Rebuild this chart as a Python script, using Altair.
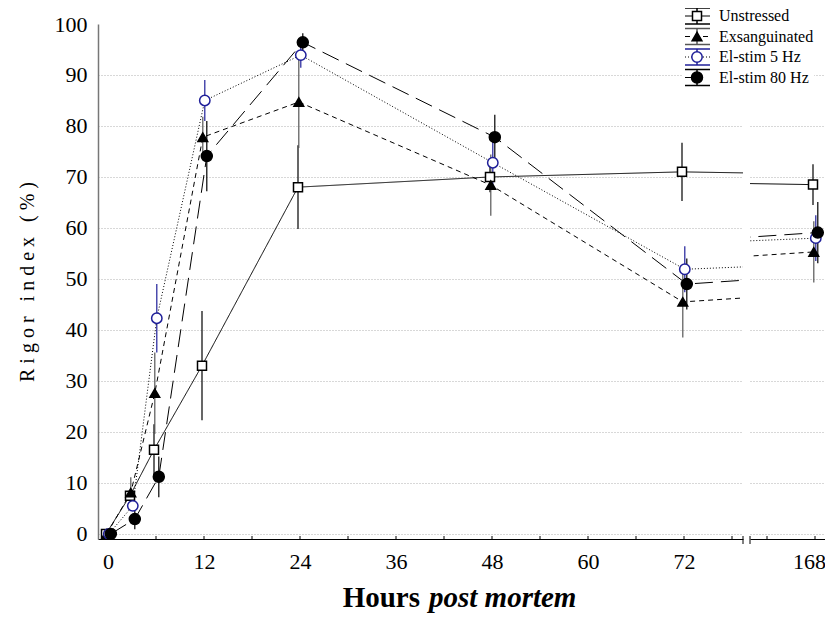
import altair as alt
import pandas as pd

# ---------------- data ----------------
hours = [0, 3, 6, 12, 24, 48, 72, 168]
series = ["Unstressed", "Exsanguinated", "El-stim 5 Hz", "El-stim 80 Hz"]

unstressed = [0.0, 7.5, 16.5, 33.0, 68.0, 70.0, 71.0, 68.5]
unstressed_err = [0.6, 1.0, 5.0, 10.7, 8.2, 3.0, 5.7, 4.0]
exsanguinated = [0.0, 8.1, 27.6, 77.8, 84.7, 68.4, 45.5, 55.3]
exsanguinated_err = [0.6, 3.0, 8.0, 4.0, 9.0, 6.0, 7.0, 6.0]
stim5 = [0.0, 5.5, 42.3, 85.0, 93.9, 72.8, 51.9, 58.0]
stim5_err = [0.5, 1.0, 6.7, 4.0, 2.5, 5.0, 4.5, 4.5]
stim80 = [0.0, 2.9, 11.2, 74.1, 96.4, 77.8, 49.0, 59.1]
stim80_err = [0.5, 2.0, 4.0, 6.9, 1.8, 4.4, 5.0, 6.0]

y_ticks = list(range(0, 101, 10))
x_labels_left = [0, 12, 24, 36, 48, 60, 72]
x_labels_right = [168]
x_minor_left = list(range(0, 79, 6))
x_minor_right = [162, 168]
x_title = ["Hours", "post mortem"]
NB = "\u00a0"
y_title = NB.join(["R", "i", "g", "o", "r", NB, "i", "n", "d", "e", "x", NB, "(", "%", ")"])

# ---------------- styles ----------------
SERIF = "Liberation Serif"
H = 515
WL, WR = 645, 79
dodge = [-0.25, -0.15, 0.1, 0.35]          # small horizontal shift per series (hours)
dashes = [[1, 0], [5, 4], [1, 2], [18, 8]]
shapes = ["square", "triangle-up", "circle", "circle"]
fills = ["white", "black", "white", "black"]
strokes = ["black", "black", "#1f1f99", "black"]
err_colors = ["black", "#555555", "#1f1f99", "black"]
sizes = [81, 121, 64, 100]

vals = [unstressed, exsanguinated, stim5, stim80]
errs = [unstressed_err, exsanguinated_err, stim5_err, stim80_err]
rows = []
for i, s in enumerate(series):
    for h, v, e in zip(hours, vals[i], errs[i]):
        rows.append({"series": s, "hour": h, "x": h + dodge[i],
                     "value": v, "lo": v - e, "hi": v + e})
df = pd.DataFrame(rows)


def sc(rng):
    return alt.Scale(domain=series, range=rng)


ys = alt.Scale(domain=[-1, 100], nice=False, zero=False)
xs_left = alt.Scale(domain=[-1.25, 79.375], nice=False, zero=False)
xs_right = alt.Scale(domain=[159.875, 169.75], nice=False, zero=False)
grid_op = {"condition": {"test": "datum.value >= 100", "value": 0}, "value": 1}


def data_layers(xs, xaxis, yaxis):
    base = alt.Chart(df)
    err = base.mark_rule(clip=True, strokeWidth=1.2).encode(
        x=alt.X("x:Q", scale=xs, axis=xaxis),
        y=alt.Y("lo:Q", scale=ys, axis=yaxis),
        y2="hi:Q",
        color=alt.Color("series:N", scale=sc(err_colors), legend=None),
    )
    line = base.mark_line(clip=True, strokeWidth=1, color="black").encode(
        x=alt.X("x:Q", scale=xs),
        y=alt.Y("value:Q", scale=ys),
        strokeDash=alt.StrokeDash("series:N", scale=sc(dashes), legend=None),
    )
    pts = base.mark_point(clip=True, opacity=1, strokeWidth=1.5).encode(
        x=alt.X("x:Q", scale=xs),
        y=alt.Y("value:Q", scale=ys),
        shape=alt.Shape("series:N", scale=sc(shapes), legend=None),
        fill=alt.Fill("series:N", scale=sc(fills), legend=None),
        stroke=alt.Stroke("series:N", scale=sc(strokes), legend=None),
        size=alt.Size("series:N", scale=sc(sizes), legend=None),
    )
    return [err, line, pts]


def minor_ticks(vals_, xs):
    return alt.Chart(pd.DataFrame({"t": vals_})).mark_rule(color="black", strokeWidth=1).encode(
        x=alt.X("t:Q", scale=xs), y=alt.value(H - 3), y2=alt.value(H)
    )


def break_mark(xpix):
    return alt.Chart(pd.DataFrame({"k": [0]})).mark_rule(color="black", strokeWidth=1).encode(
        x=alt.value(xpix), y=alt.value(H - 3), y2=alt.value(H + 5)
    )


# ---------------- left panel ----------------
yaxis_left = alt.Axis(
    values=y_ticks, labelFont=SERIF, labelFontSize=22, labelColor="black", labelPadding=11,
    ticks=False, domainColor="#777777", domainWidth=1.5,
    grid=True, gridColor="#b0b0b0", gridDash=[1, 2], gridOpacity=grid_op,
    title=y_title, titleFont=SERIF, titleFontSize=20, titleFontWeight="normal",
    titleColor="black", titlePadding=17,
)
xaxis_left = alt.Axis(
    values=x_labels_left, labelFont=SERIF, labelFontSize=22, labelColor="black", labelPadding=12,
    labelFlush=False, labelOverlap=False, ticks=False, domainColor="black", domainWidth=1,
    grid=False, title=None,
)

xt1 = alt.Chart(pd.DataFrame({"t": [x_title[0]]})).mark_text(
    align="right", baseline="alphabetic", font=SERIF, fontSize=29, fontWeight="bold", color="black"
).encode(text="t:N", x=alt.value(322), y=alt.value(583))
xt2 = alt.Chart(pd.DataFrame({"t": [x_title[1]]})).mark_text(
    align="left", baseline="alphabetic", font=SERIF, fontSize=29, fontWeight="bold",
    fontStyle="italic", color="black"
).encode(text="t:N", x=alt.value(331), y=alt.value(583))

left = alt.layer(
    *data_layers(xs_left, xaxis_left, yaxis_left),
    minor_ticks(x_minor_left, xs_left),
    break_mark(WL),
    xt1, xt2,
).properties(width=WL, height=H)

# ---------------- right panel ----------------
yaxis_right = alt.Axis(
    values=y_ticks, labels=False, ticks=False, domain=False, title=None,
    grid=True, gridColor="#b0b0b0", gridDash=[1, 2], gridOpacity=grid_op,
)
xaxis_right = alt.Axis(
    values=x_labels_right, labelFont=SERIF, labelFontSize=22, labelColor="black", labelPadding=12,
    labelOffset=-6, labelFlush=False, labelOverlap=False, ticks=False,
    domainColor="black", domainWidth=1, grid=False, title=None,
)

leg = alt.Chart(pd.DataFrame({"series": series, "idx": list(range(len(series)))})).transform_calculate(
    ly="-8 + 20.5 * datum.idx", top="datum.ly - 8", bot="datum.ly + 8"
)
leg_bg = alt.Chart(pd.DataFrame({"k": [0]})).mark_rect(color="white").encode(
    x=alt.value(-67), x2=alt.value(64), y=alt.value(-16), y2=alt.value(64)
)
leg_caps_top = leg.mark_rule(strokeWidth=1.5).encode(
    x=alt.value(-65), x2=alt.value(-40), y=alt.Y("top:Q", scale=None, axis=None),
    color=alt.Color("series:N", scale=sc(err_colors), legend=None),
)
leg_caps_bot = leg.mark_rule(strokeWidth=1.5).encode(
    x=alt.value(-65), x2=alt.value(-40), y=alt.Y("bot:Q", scale=None, axis=None),
    color=alt.Color("series:N", scale=sc(err_colors), legend=None),
)
leg_vert = leg.mark_rule(strokeWidth=1.5).encode(
    x=alt.value(-53), y=alt.Y("top:Q", scale=None, axis=None), y2="bot:Q",
    color=alt.Color("series:N", scale=sc(err_colors), legend=None),
)
leg_line = leg.mark_rule(strokeWidth=1, color="black").encode(
    x=alt.value(-65), x2=alt.value(-40), y=alt.Y("ly:Q", scale=None, axis=None),
    strokeDash=alt.StrokeDash("series:N", scale=sc(dashes), legend=None),
)
leg_pts = leg.mark_point(opacity=1, strokeWidth=1.5).encode(
    x=alt.value(-53), y=alt.Y("ly:Q", scale=None, axis=None),
    shape=alt.Shape("series:N", scale=sc(shapes), legend=None),
    fill=alt.Fill("series:N", scale=sc(fills), legend=None),
    stroke=alt.Stroke("series:N", scale=sc(strokes), legend=None),
    size=alt.Size("series:N", scale=sc(sizes), legend=None),
)
leg_txt = leg.mark_text(align="left", baseline="middle", font=SERIF, fontSize=16, color="black").encode(
    x=alt.value(-31), y=alt.Y("ly:Q", scale=None, axis=None), text="series:N"
)

right = alt.layer(
    *data_layers(xs_right, xaxis_right, yaxis_right),
    minor_ticks(x_minor_right, xs_right),
    break_mark(0),
    leg_bg, leg_caps_top, leg_caps_bot, leg_vert, leg_line, leg_pts, leg_txt,
).properties(width=WR, height=H)

# fixed placement: plot area starts at page (98, 24); page stays within 833 px
chart = alt.hconcat(left, right, spacing=7, bounds="flush").properties(
    autosize=alt.AutoSizeParams(type="none"),
    padding={"left": 90, "top": 16, "right": 727, "bottom": 591},
).configure_view(stroke=None)

chart.save("out.html", embed_options={"renderer": "svg", "actions": False})
